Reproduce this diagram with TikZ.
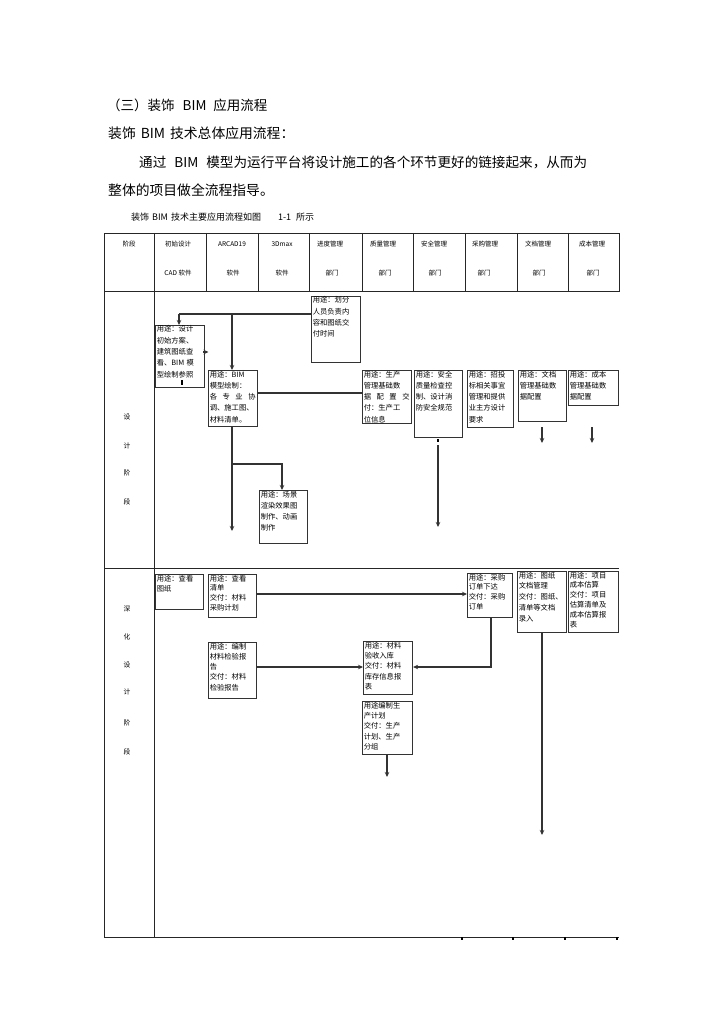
\documentclass[tikz,border=0pt]{standalone}
\usepackage{fontspec}
\setmainfont{Noto Sans CJK SC}
\usetikzlibrary{arrows.meta}
\tikzset{
  tline/.style={line width=0.9pt, draw=black!85},
  boxframe/.style={draw=black!80, line width=1.1pt, inner sep=0, anchor=north west},
  conn/.style={line width=1.1pt, draw=black!80},
  arr/.style={conn, -{Stealth[length=5pt,width=4.5pt]}},
  hdr/.style={font=\fontsize{6.5}{7}\selectfont, inner sep=0},
  phase/.style={font=\fontsize{6.8}{7}\selectfont, inner sep=0},
  boxtext/.style={anchor=north west, inner sep=0, align=left},
  para/.style={anchor=west, inner sep=0, font=\fontsize{13.8}{16}\selectfont},
}
\newcommand\flowbox[7]{%
  \node[boxframe, minimum width={#4pt-#2pt}, minimum height={#5pt-#3pt}] (#1) at (#2,#3) {};
  \node[boxtext, text width={#4pt-#2pt-3.2pt}, font=\fontsize{7.3}{#6}\selectfont] (#1t) at ([xshift=1.6pt,yshift=-0.6pt]#1.north west) {#7};
}
\begin{document}
\begin{tikzpicture}[x=1pt,y=-1pt]
\useasboundingbox (0,0) rectangle (724,1024);
\fill[white] (0,0) rectangle (724,1024);

% intro text
\node[para, font=\fontsize{13.5}{16}\selectfont] (title) at (107,105) {（三）装饰\hspace{8pt}BIM\hspace{7pt}应用流程};
\node[para] (l2) at (108,133) {装饰\hspace{5pt}BIM\hspace{5pt}技术总体应用流程：};
\node[para, font=\fontsize{13.6}{16}\selectfont] (l3) at (139,162) {通过\hspace{8pt}BIM\hspace{8pt}模型为运行平台将设计施工的各个环节更好的链接起来，从而为};
\node[para] (l4) at (108,190) {整体的项目做全流程指导。};
\node[para, font=\fontsize{9}{11}\selectfont] (cap) at (131,217) {装饰\hspace{3pt}BIM\hspace{3pt}技术主要应用流程如图\hspace{17pt}1-1\hspace{5pt}所示};

% table frame
\draw[tline] (104,233) rectangle (619,291);
\foreach \x in {154,206,258,309,362,413,465,517,568} \draw[tline] (\x,233) -- (\x,291);
\draw[tline] (104,291) -- (104,937) -- (619,937);
\draw[tline] (154,291) -- (154,937);
\draw[tline] (104,568) -- (619,568);
\foreach \x in {462,513,565,617} \draw[line width=1.2pt] (\x,937) -- (\x,940);

% header
\node[hdr] (h1) at (129,244) {阶段};
\node[hdr] (h2a) at (178,244) {初始设计};
\node[hdr] (h2b) at (178,273) {CAD 软件};
\node[hdr] (h3a) at (232,244) {ARCAD19};
\node[hdr] (h3b) at (233,273) {软件};
\node[hdr] (h4a) at (282,244) {3Dmax};
\node[hdr] (h4b) at (282,273) {软件};
\node[hdr] (h5a) at (330,244) {进度管理};
\node[hdr] (h5b) at (332,273) {部门};
\node[hdr] (h6a) at (383,244) {质量管理};
\node[hdr] (h6b) at (385,273) {部门};
\node[hdr] (h7a) at (434,244) {安全管理};
\node[hdr] (h7b) at (435,273) {部门};
\node[hdr] (h8a) at (485,244) {采购管理};
\node[hdr] (h8b) at (484,273) {部门};
\node[hdr] (h9a) at (538,244) {文档管理};
\node[hdr] (h9b) at (539,273) {部门};
\node[hdr] (h10a) at (592,244) {成本管理};
\node[hdr] (h10b) at (593,273) {部门};

% phase labels
\node[phase] (p1) at (127,417) {设};
\node[phase] (p2) at (127,446) {计};
\node[phase] (p3) at (127,473) {阶};
\node[phase] (p4) at (127,502) {段};
\node[phase] (q1) at (127,609) {深};
\node[phase] (q2) at (127,637) {化};
\node[phase] (q3) at (127,665) {设};
\node[phase] (q4) at (127,692) {计};
\node[phase] (q5) at (127,723) {阶};
\node[phase] (q6) at (127,752) {段};

% design phase boxes
\flowbox{b1}{311}{296}{360}{362}{11.3}{用途：划分\\人员负责内\\容和图纸交\\付时间}
\flowbox{bA}{155}{325}{204}{387}{11.3}{用途：设计\\初始方案、\\建筑图纸查\\看、BIM 模\\型绘制参照}
\flowbox{bB}{208}{370}{257}{426}{11.3}{用途：BIM\\模型绘制：\\各\hfill{}专\hfill{}业\hfill{}协\\调、施工图、\\材料清单。}
\flowbox{bC}{362}{370}{411}{423}{11.3}{用途：生产\\管理基础数\\据\hfill{}配\hfill{}置\hfill{}交\\付：生产工\\位信息}
\flowbox{bD}{414}{370}{462}{437}{11.3}{用途：安全\\质量检查控\\制、设计消\\防安全规范}
\flowbox{bE}{467}{370}{513}{427}{11.3}{用途：招投\\标相关事宜\\管理和提供\\业主方设计\\要求}
\flowbox{bF}{518}{370}{566}{421}{11.3}{用途：文档\\管理基础数\\据配置}
\flowbox{bG}{568}{370}{618}{405}{11.3}{用途：成本\\管理基础数\\据配置}
\flowbox{bH}{259}{490}{307}{543}{11.3}{用途：场景\\渲染效果图\\制作、动画\\制作}

% detail phase boxes
\flowbox{cA}{155}{574}{203}{609}{10}{用途：查看\\图纸}
\flowbox{cB}{208}{574}{256}{617}{9.8}{用途：查看\\清单\\交付：材料\\采购计划}
\flowbox{cC}{467}{573}{512}{617}{9.8}{用途：采购\\订单下达\\交付：采购\\订单}
\flowbox{cD}{517}{571}{566}{632}{10.8}{用途：图纸\\文档管理\\交付：图纸、\\清单等文档\\录入}
\flowbox{cE}{568}{571}{618}{632}{9.8}{用途：项目\\成本估算\\交付：项目\\估算清单及\\成本估算报\\表}
\flowbox{cF}{208}{642}{256}{698}{10.3}{用途：编制\\材料检验报\\告\\交付：材料\\检验报告}
\flowbox{cG}{363}{641}{412}{694}{10.4}{用途：材料\\验收入库\\交付：材料\\库存信息报\\表}
\flowbox{cH}{362}{701}{412}{754}{10.4}{用途编制生\\产计划\\交付：生产\\计划、生产\\分组}

% design phase connectors
\coordinate (t1) at (179,314);
\coordinate (t2) at (232,314);
\draw[conn] (t1) -- (b1.west|-t1);
\draw[arr] (t1) -- (t1|-bA.north);
\draw[arr] (t2) -- (t2|-bB.north);
\coordinate (r1) at (257,393);
\draw[conn] (bB.east|-r1) -- (bC.west|-r1);
\coordinate (aA) at (203,352);
\draw[arr] (aA) -- ++(5.5,0);
\draw[line width=1.6pt] (182,380) -- (182,385);
\coordinate (d1) at (232,531);
\draw[arr] (d1|-bB.south) -- (d1);
\coordinate (br) at (232,464);
\coordinate (br2) at (282,464);
\draw[arr] (br) -- (br2) -- (br2|-bH.north);
\draw[line width=1.4pt] (438,439) -- (438,442);
\coordinate (e1) at (438,445);
\coordinate (e2) at (438,527);
\draw[arr] (e1) -- (e2);
\coordinate (f1) at (542,427);
\coordinate (f2) at (542,443);
\draw[arr] (f1) -- (f2);
\coordinate (g1) at (592,427);
\coordinate (g2) at (592,443);
\draw[arr] (g1) -- (g2);

% detail phase connectors
\coordinate (r2) at (256,594);
\draw[arr] (cB.east|-r2) -- (cC.west|-r2);
\coordinate (r3) at (256,667);
\draw[arr] (cF.east|-r3) -- (cG.west|-r3);
\coordinate (k2) at (491,667);
\draw[arr] (k2|-cC.south) -- (k2) -- (cG.east|-k2);
\coordinate (m1) at (387,777);
\draw[arr] (m1|-cH.south) -- (m1);
\coordinate (n1) at (542,835);
\draw[arr] (n1|-cD.south) -- (n1);
\end{tikzpicture}
\end{document}
